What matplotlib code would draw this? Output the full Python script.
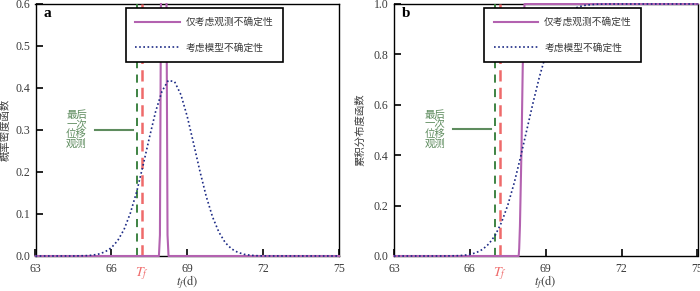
import matplotlib
matplotlib.use("Agg")
import matplotlib.pyplot as plt
from matplotlib.transforms import Bbox, TransformedBbox, blended_transform_factory

plt.rcParams['font.family'] = ['Liberation Serif', 'Noto Sans CJK SC', 'DejaVu Sans']
plt.rcParams['mathtext.fontset'] = 'stix'

# ---------------- data ----------------
x_model = [63.0, 64.5, 65.0, 65.25, 65.5, 65.75, 66.0, 66.25, 66.5, 66.75, 67.0, 67.25,
           67.5, 67.75, 68.0, 68.25, 68.5, 68.75, 69.0, 69.25, 69.5, 69.75, 70.0,
           70.25, 70.5, 70.75, 71.0, 71.25, 71.5, 71.75, 72.0, 75.0]
pdf_model = [0.0, 0.0001, 0.0008, 0.002, 0.0047, 0.0099, 0.0197, 0.0366, 0.063, 0.102,
             0.153, 0.215, 0.281, 0.344, 0.392, 0.418, 0.415, 0.384, 0.332, 0.268,
             0.202, 0.142, 0.093, 0.057, 0.032, 0.017, 0.0086, 0.004, 0.0017, 0.0007,
             0.0002, 0.0]

x_obs_pdf = [63.0, 67.88, 67.92, 67.96, 68.07, 68.18, 68.22, 68.26, 75.0]
pdf_obs = [0.0, 0.0, 0.05, 0.6, 2.3, 0.6, 0.05, 0.0, 0.0]

x_model_cdf = [63.0, 64.5, 65.0, 65.5, 65.75, 66.0, 66.25, 66.5, 66.75, 67.0, 67.25,
               67.5, 67.75, 68.0, 68.25, 68.5, 68.75, 69.0, 69.25, 69.5, 69.75, 70.0,
               70.25, 70.5, 70.75, 71.0, 71.5, 75.0]
cdf_model = [0.0, 0.00002, 0.00015, 0.0011, 0.0027, 0.0062, 0.0132, 0.026, 0.048, 0.082,
             0.133, 0.202, 0.289, 0.391, 0.5, 0.609, 0.711, 0.798, 0.867, 0.918, 0.952,
             0.974, 0.987, 0.994, 0.997, 0.999, 1.0, 1.0]

x_obs_cdf = [63.0, 67.93, 67.95, 67.98, 68.04, 68.09, 68.16, 75.0]
cdf_obs = [0.0, 0.0, 0.03, 0.12, 0.42, 0.75, 1.0, 1.0]

t_last_obs = 67.0
t_f = 67.2

x_ticks = [63, 66, 69, 72, 75]
y_ticks_a = [0.0, 0.1, 0.2, 0.3, 0.4, 0.5, 0.6]
y_ticks_b = [0.0, 0.2, 0.4, 0.6, 0.8, 1.0]

label_obs = '仅考虑观测不确定性'
label_model = '考虑模型不确定性'
annot_text = '最后\n一次\n位移\n观测'

# ---------------- style ----------------
c_purple = '#B362B0'
c_blue = '#1C2A85'
c_green = '#2F7A35'
c_red = '#EF6A6A'
c_annot = '#5E8C5E'
c_txt = '#3a3a3a'

fig = plt.figure(figsize=(7.0, 2.91), dpi=100)
W, H = 700.0, 291.0
ax_a = fig.add_axes([35.5 / W, 35 / H, 303.5 / W, 252 / H])
ax_b = fig.add_axes([394 / W, 35 / H, 303.5 / W, 252 / H])


def setup(ax, yticks, ylabel, letter, y_top, ylbl_x):
    ax.set_xlim(63, 75)
    ax.set_ylim(0, y_top)
    ax.set_xticks(x_ticks)
    ax.set_yticks(yticks)
    ax.set_yticklabels(['%.1f' % v for v in yticks])
    ax.tick_params(direction='in', length=5, width=1.2, labelsize=8.5, pad=4,
                   colors='black', labelcolor=c_txt)
    ax.tick_params(axis='x', pad=5)
    for s in ax.spines.values():
        s.set_linewidth(1.0)
        s.set_color('black')
        s.set_zorder(1)
    ax.set_ylabel(ylabel, fontsize=7.5, family=['Noto Sans CJK SC'], color=c_txt)
    ax.yaxis.set_label_coords(ylbl_x, 0.5)
    ax.set_xlabel(r'$t_f\mathrm{(d)}$', fontsize=9, color=c_txt, labelpad=-1)
    ax.text(0.025, 0.962, letter, transform=ax.transAxes, fontsize=11,
            fontweight='bold', va='center', ha='left')


setup(ax_a, y_ticks_a, '概率密度函数', 'a', 0.6, -0.083)
setup(ax_b, y_ticks_b, '累积分布度函数', 'b', 1.0, -0.093)

for ax, xs_o, ys_o, xs_m, ys_m, ann_y in [
        (ax_a, x_obs_pdf, pdf_obs, x_model, pdf_model, 0.301),
        (ax_b, x_obs_cdf, cdf_obs, x_model_cdf, cdf_model, 0.502)]:
    ax.axvline(t_last_obs, color=c_green, lw=1.3, ls=(0, (4.5, 3.5)), zorder=2)
    ax.axvline(t_f, color=c_red, lw=1.8, ls=(0, (4.5, 2.5)), zorder=2)
    clip = TransformedBbox(Bbox([[-0.01, -0.02], [1.01, 1.005]]), ax.transAxes)
    lo, = ax.plot(xs_o, ys_o, color=c_purple, lw=1.5, zorder=3, label=label_obs)
    lo.set_clip_box(clip)
    lm, = ax.plot(xs_m, ys_m, color=c_blue, lw=1.2, ls=(0, (1.0, 1.5)), zorder=4,
                  label=label_model)
    lm.set_clip_box(clip)
    # annotation
    ax.text(64.62, ann_y, annot_text, color=c_annot, fontsize=7.5,
            family=['Noto Sans CJK SC'], ha='center', va='center', linespacing=0.95)
    ax.plot([65.35, 66.85], [ann_y, ann_y], color=c_annot, lw=1.5, zorder=3)
    # T_f label
    tr = blended_transform_factory(ax.transData, ax.transAxes)
    ax.text(t_f, -0.035, r'$T_f$', transform=tr, color=c_red, fontsize=10,
            ha='center', va='top')
    leg = ax.legend(handles=[lo, lm], loc='upper left', bbox_to_anchor=(0.298, 0.984),
                    fancybox=False, edgecolor='black', framealpha=1.0,
                    prop={'family': ['Noto Sans CJK SC'], 'size': 7},
                    handlelength=4.6, handletextpad=0.6, labelspacing=1.55,
                    borderpad=0.95, borderaxespad=0.0)
    leg.get_frame().set_linewidth(1.2)
    leg.set_zorder(10)
    for t in leg.get_texts():
        t.set_color(c_txt)

fig.savefig('out.png', dpi=100)
